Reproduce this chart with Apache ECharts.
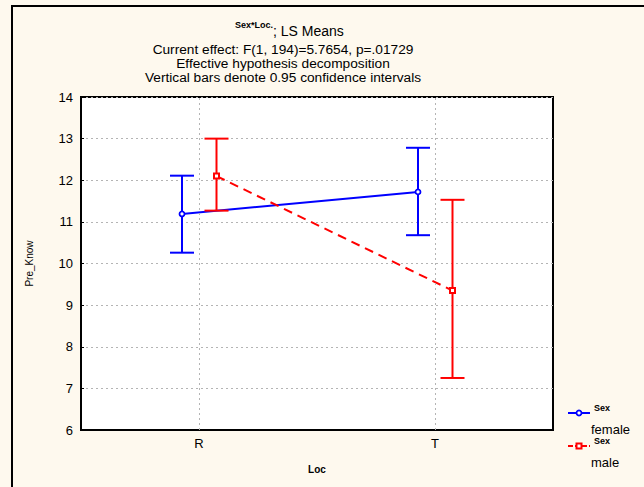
<!DOCTYPE html>
<html><head><meta charset="utf-8">
<script src="https://cdn.jsdelivr.net/npm/echarts@6/dist/echarts.min.js"></script>
<style>html,body{margin:0;padding:0;background:#fef9ee}#c{width:644px;height:487px}</style>
</head><body><div id="c"></div>
<script>
// ---- data ----
const categories = ['R', 'T'];
const factorName = 'Sex';
const groupNames = ['female', 'male'];
const femaleMean = [11.19, 11.72];
const femaleLow  = [10.26, 10.68];
const femaleHigh = [12.11, 12.78];
const maleMean   = [12.10, 9.35];
const maleLow    = [11.27, 7.25];
const maleHigh   = [13.00, 11.53];
const yMin = 6, yMax = 14, yStep = 1;
const titleEffect = 'Sex*Loc.';
const titleMain = '; LS Means';
const subLines = ['Current effect: F(1, 194)=5.7654, p=.01729',
                  'Effective hypothesis decomposition',
                  'Vertical bars denote 0.95 confidence intervals'];
const yName = 'Pre_Know';
const xName = 'Loc';

const FONT = '"Liberation Sans", Arial, sans-serif';
const chart = echarts.init(document.getElementById('c'), null, {renderer: 'svg'});

function makeSeries(name, mean, low, high, color, dashed, symbol, off) {
  return {
    type: 'custom',
    name: name,
    z: 3,
    data: mean.map((m, i) => [i, m, low[i], high[i]]),
    renderItem: function (params, api) {
      const idx = api.value(0);
      const p = api.coord([idx, api.value(1)]);
      const lo = api.coord([idx, api.value(2)]);
      const hi = api.coord([idx, api.value(3)]);
      const x = p[0] + off;
      const cap = 12;
      const children = [];
      if (idx + 1 < mean.length) {
        const q = api.coord([idx + 1, mean[idx + 1]]);
        children.push({type: 'line', shape: {x1: x, y1: p[1], x2: q[0] + off, y2: q[1]},
          style: {stroke: color, lineWidth: 2, lineDash: dashed ? [9, 6] : null}});
      }
      const bs = {stroke: color, lineWidth: 2};
      children.push({type: 'line', shape: {x1: x, y1: lo[1], x2: x, y2: hi[1]}, style: bs});
      children.push({type: 'line', shape: {x1: x - cap, y1: lo[1], x2: x + cap, y2: lo[1]}, style: bs});
      children.push({type: 'line', shape: {x1: x - cap, y1: hi[1], x2: x + cap, y2: hi[1]}, style: bs});
      if (symbol === 'circle') {
        children.push({type: 'circle', shape: {cx: x, cy: p[1], r: 2.5}, style: {fill: '#fff', stroke: color, lineWidth: 1.8}});
      } else {
        children.push({type: 'rect', shape: {x: x - 2.5, y: p[1] - 2.5, width: 5, height: 5}, style: {fill: '#fff', stroke: color, lineWidth: 2}});
      }
      return {type: 'group', children: children};
    }
  };
}

const s1 = makeSeries(groupNames[0], femaleMean, femaleLow, femaleHigh, '#0000ff', false, 'circle', -17);
s1.markLine = {silent: true, symbol: 'none', label: {show: false},
  lineStyle: {type: [2, 3], color: '#b4b4b4', width: 1},
  data: categories.map(c => ({xAxis: c}))};
const s2 = makeSeries(groupNames[1], maleMean, maleLow, maleHigh, '#ff0000', true, 'rect', 17.5);

function legendItem(y, color, dashed, symbol, label) {
  return [
    {type: 'line', shape: {x1: 568, y1: y, x2: 590, y2: y}, style: {stroke: color, lineWidth: 2, lineDash: dashed ? [5, 2] : null}},
    symbol === 'circle'
      ? {type: 'circle', shape: {cx: 579, cy: y, r: 2.5}, style: {fill: '#fff', stroke: color, lineWidth: 1.8}}
      : {type: 'rect', shape: {x: 576.5, y: y - 2.5, width: 5, height: 5}, style: {fill: '#fff', stroke: color, lineWidth: 2}},
    {type: 'text', x: 594, y: y - 5, style: {text: factorName, font: 'bold 9px ' + FONT, fill: '#000', textVerticalAlign: 'middle'}},
    {type: 'text', x: 591, y: y + 16, style: {text: label, font: '13px ' + FONT, fill: '#000', textVerticalAlign: 'middle'}}
  ];
}

chart.setOption({
  backgroundColor: '#fef9ee',
  animation: false,
  grid: {left: 81, top: 97, right: 91, bottom: 57, show: true, backgroundColor: '#fff', borderColor: '#000', borderWidth: 2},
  xAxis: {
    type: 'category', data: categories,
    name: xName, nameLocation: 'middle', nameGap: 34,
    nameTextStyle: {fontFamily: FONT, fontSize: 10, fontWeight: 'bold', color: '#000'},
    axisLine: {lineStyle: {color: '#000', width: 2}},
    axisTick: {alignWithLabel: true, inside: true, length: 3, lineStyle: {color: '#000'}},
    axisLabel: {fontFamily: FONT, fontSize: 13, color: '#000', margin: 7},
    splitLine: {show: false}
  },
  yAxis: {
    type: 'value', min: yMin, max: yMax, interval: yStep,
    name: yName, nameLocation: 'middle', nameGap: 47, nameRotate: 90,
    nameTextStyle: {fontFamily: FONT, fontSize: 10, color: '#000'},
    axisLine: {show: true, lineStyle: {color: '#000', width: 2}},
    axisTick: {show: true, inside: true, length: 3, lineStyle: {color: '#000'}},
    axisLabel: {fontFamily: FONT, fontSize: 13, color: '#000', margin: 8},
    splitLine: {show: true, lineStyle: {type: [2, 3], color: '#b4b4b4', width: 1}}
  },
  series: [s1, s2],
  graphic: [
    {type: 'rect', shape: {x: 12, y: 6, width: 700, height: 600}, style: {fill: 'none', stroke: '#000', lineWidth: 2}, silent: true},
    {type: 'text', x: 273, y: 25, style: {text: titleEffect, font: 'bold 9px ' + FONT, fill: '#000', textAlign: 'right', textVerticalAlign: 'middle'}},
    {type: 'text', x: 273, y: 31, style: {text: titleMain, font: '14px ' + FONT, fill: '#000', textAlign: 'left', textVerticalAlign: 'middle'}},
    ...subLines.map((t, i) => ({type: 'text', x: 283, y: 49 + i * 14,
      style: {text: t, font: '13.7px ' + FONT, fill: '#000', textAlign: 'center', textVerticalAlign: 'middle'}})),
    ...legendItem(413, '#0000ff', false, 'circle', groupNames[0]),
    ...legendItem(446, '#ff0000', true, 'rect', groupNames[1])
  ]
});
</script></body></html>
